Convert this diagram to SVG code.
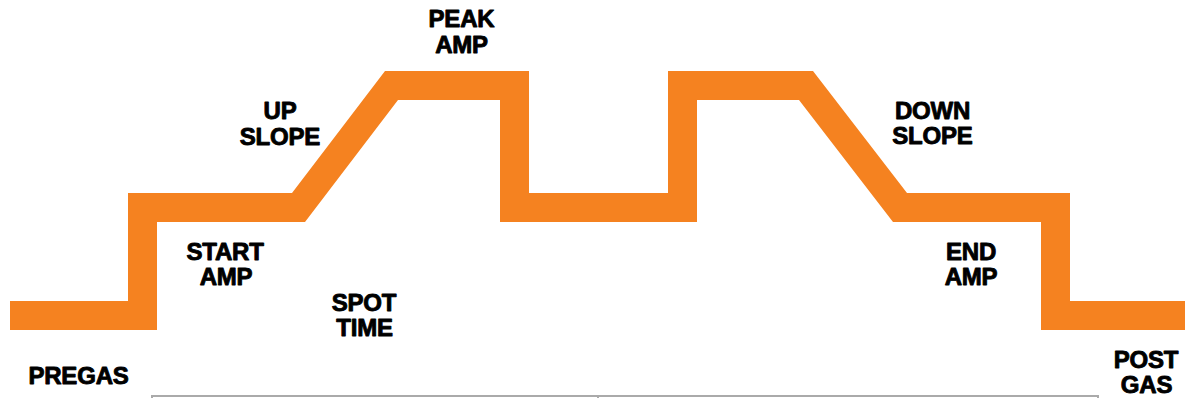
<svg xmlns="http://www.w3.org/2000/svg" width="1185" height="398" viewBox="0 0 1185 398">
<style>
.lbl{font-family:"Liberation Sans",Arial,sans-serif;font-weight:bold;font-size:24px;fill:#000;stroke:#000;stroke-width:0.9;stroke-linejoin:round;text-anchor:middle;letter-spacing:-0.2px}
.wave{fill:#F58220}
.axis{stroke:#aaaaaa;stroke-width:2;fill:none}
</style>
<rect width="1185" height="398" fill="#ffffff"/>
<g id="waveform">
<polygon class="wave" points="10,301 128,301 128,193 292,193 385,71 529,71 529,193 668,193 668,71 813,71 907,193 1070,193 1070,301 1185,301 1185,330 1041,330 1041,222 893,222 799,100 697,100 697,222 500,222 500,100 398,100 305,222 157,222 157,330 10,330"/>
</g>
<g id="connectors">
<path class="axis" d="M152,398 V396 H1098 V398"/>
<line class="axis" x1="598" y1="395" x2="598" y2="398" stroke-width="1"/>
</g>
<g id="pregas"><text class="lbl" x="78.5" y="383.5" font-size="25">PREGAS</text></g>
<g id="start-amp"><text class="lbl" x="225" y="260">START</text><text class="lbl" x="226" y="285">AMP</text></g>
<g id="up-slope"><text class="lbl" x="280" y="119">UP</text><text class="lbl" x="280" y="144.5">SLOPE</text></g>
<g id="spot-time"><text class="lbl" x="364" y="310.5">SPOT</text><text class="lbl" x="364.5" y="335.5">TIME</text></g>
<g id="peak-amp"><text class="lbl" x="461.5" y="26.5">PEAK</text><text class="lbl" x="461.5" y="52.5">AMP</text></g>
<g id="down-slope"><text class="lbl" x="932.5" y="119">DOWN</text><text class="lbl" x="932.5" y="143.5">SLOPE</text></g>
<g id="end-amp"><text class="lbl" x="971" y="260">END</text><text class="lbl" x="971" y="285">AMP</text></g>
<g id="post-gas"><text class="lbl" x="1146" y="367.5">POST</text><text class="lbl" x="1146.5" y="393">GAS</text></g>
</svg>
